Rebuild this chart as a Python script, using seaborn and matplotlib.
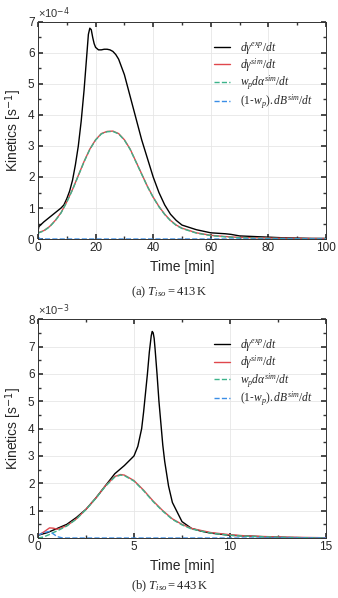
import numpy as np
import pandas as pd
import seaborn as sns
from matplotlib import pyplot as plt
from matplotlib.ticker import MultipleLocator

# ---- (a) T_iso = 413 K, values in 1e-4 s^-1, time in min
t_exp_a = [0, 0.3, 2, 4, 6, 8, 9, 10, 11, 12, 13, 14, 15, 16, 17, 17.5, 18, 18.5, 19, 19.5, 20, 21, 22,
           23, 24, 25, 26, 27, 28, 30, 32, 34, 36, 38, 40, 42, 44, 46, 48, 50, 55, 60, 65, 67, 70,
           75, 80, 85, 90, 95, 100]
y_exp_a = [0.25, 0.4, 0.55, 0.7, 0.85, 1.0, 1.1, 1.3, 1.55, 1.9, 2.4, 3.0, 3.8, 4.8, 6.0, 6.6, 6.8,
           6.75, 6.5, 6.3, 6.18, 6.1, 6.1, 6.12, 6.12, 6.1, 6.05, 5.95, 5.8, 5.3, 4.6, 3.9, 3.2, 2.6,
           2.0, 1.5, 1.1, 0.8, 0.6, 0.45, 0.3, 0.2, 0.17, 0.15, 0.1, 0.08, 0.06, 0.04, 0.03, 0.02, 0.02]
t_sim_a = [0, 2, 4, 6, 8, 10, 12, 14, 16, 18, 20, 22, 24, 26, 28, 30, 32, 34, 36, 38, 40, 42, 44,
           46, 48, 50, 55, 60, 65, 70, 80, 90, 100]
y_sim_a = [0.2, 0.27, 0.4, 0.6, 0.85, 1.2, 1.6, 2.05, 2.5, 2.9, 3.2, 3.4, 3.47, 3.48, 3.4, 3.2, 2.9,
           2.5, 2.1, 1.7, 1.35, 1.05, 0.8, 0.6, 0.45, 0.35, 0.2, 0.12, 0.08, 0.05, 0.03, 0.02, 0.01]
y_alpha_a = [0.19, 0.26, 0.39, 0.59, 0.84, 1.19, 1.59, 2.04, 2.49, 2.89, 3.19, 3.39, 3.46, 3.47,
             3.39, 3.19, 2.89, 2.49, 2.09, 1.69, 1.34, 1.04, 0.79, 0.59, 0.44, 0.34, 0.19, 0.11,
             0.07, 0.04, 0.02, 0.01, 0.0]
t_beta_a = [0, 0.3, 1, 100]
y_beta_a = [0.3, 0.03, 0.0, 0.0]

# ---- (b) T_iso = 443 K, values in 1e-3 s^-1
t_exp_b = [0, 0.5, 1, 1.5, 2, 2.5, 3, 3.5, 4, 4.5, 5, 5.2, 5.4, 5.5, 5.6, 5.7, 5.8, 5.9, 5.95,
           6.0, 6.05, 6.1, 6.2, 6.3, 6.4, 6.5, 6.6, 6.8, 7, 7.5, 8, 8.5, 9, 10, 11, 12, 13, 14, 15]
y_exp_b = [0.1, 0.2, 0.35, 0.5, 0.75, 1.05, 1.45, 1.9, 2.35, 2.65, 3.0, 3.35, 4.0, 4.6, 5.3, 6.0,
           6.8, 7.4, 7.55, 7.5, 7.3, 6.9, 6.0, 5.0, 4.2, 3.4, 2.8, 1.9, 1.3, 0.6, 0.35, 0.25, 0.18,
           0.1, 0.07, 0.04, 0.02, 0.01, 0.01]
t_sim_b = [0, 0.3, 0.6, 0.8, 1, 1.5, 2, 2.5, 3, 3.5, 4, 4.3, 4.5, 5, 5.5, 6, 6.5, 7, 7.5, 8, 9, 10,
           11, 12, 13, 14, 15]
y_sim_b = [0.1, 0.22, 0.37, 0.36, 0.32, 0.45, 0.7, 1.05, 1.45, 1.9, 2.25, 2.32, 2.3, 2.1, 1.75,
           1.35, 1.0, 0.7, 0.5, 0.35, 0.2, 0.12, 0.07, 0.05, 0.03, 0.02, 0.01]
y_alpha_b = [0.0, 0.04, 0.13, 0.2, 0.26, 0.44, 0.69, 1.04, 1.44, 1.88, 2.23, 2.3, 2.28, 2.08, 1.73,
             1.33, 0.98, 0.68, 0.48, 0.33, 0.18, 0.1, 0.06, 0.04, 0.02, 0.01, 0.0]
t_beta_b = [0, 0.3, 0.6, 0.8, 1, 1.3, 15]
y_beta_b = [0.1, 0.2, 0.24, 0.15, 0.05, 0.0, 0.0]

labels = [r'$\mathit{d\gamma^{exp}/dt}$', r'$\mathit{d\gamma^{sim}/dt}$',
          r'$\mathit{w_p d\alpha^{sim}/dt}$', r'$\mathit{(1}$-$\mathit{w_p).dB^{sim}/dt}$']
colors = ['#000000', '#e0474c', '#3cb38a', '#3a8ee6']

sns.set_theme(style='ticks')
plt.rcParams['font.family'] = ['Liberation Sans', 'DejaVu Sans']
plt.rcParams['mathtext.fontset'] = 'custom'
plt.rcParams['mathtext.it'] = 'Liberation Serif:italic'
plt.rcParams['mathtext.rm'] = 'Liberation Serif'

fig = plt.figure(figsize=(3.38, 5.98), dpi=100)
ax_a = fig.add_axes([0.1124, 0.6003, 0.852, 0.363])
ax_b = fig.add_axes([0.1124, 0.1003, 0.852, 0.366])


def draw(ax, series, xmax, xmaj, xmin_, ymax, exp_label):
    for (t, y), lab, col, ls in zip(series, labels, colors, ['-', '-', '--', '--']):
        sns.lineplot(x=t, y=y, ax=ax, color=col, linestyle=ls, linewidth=1.0, label=lab,
                     sort=False, estimator=None)
    ax.set_xlim(0, xmax)
    ax.set_ylim(0, ymax)
    ax.xaxis.set_major_locator(MultipleLocator(xmaj))
    ax.xaxis.set_minor_locator(MultipleLocator(xmin_))
    ax.yaxis.set_major_locator(MultipleLocator(1))
    ax.yaxis.set_minor_locator(MultipleLocator(0.5))
    ax.tick_params(which='both', direction='in', top=True, right=True, labelsize=8.5,
                   color='#333333', pad=2.5)
    ax.tick_params(which='major', length=3.5)
    ax.tick_params(which='minor', length=2)
    ax.grid(True, which='major', color='#e6e6e6', linewidth=0.6)
    for s in ax.spines.values():
        s.set_color('#333333')
        s.set_linewidth(0.7)
    ax.set_xlabel('Time [min]', fontsize=10, labelpad=4)
    ax.set_ylabel('Kinetics [s$^{\\mathsf{-1}}$]', fontsize=10, labelpad=3)
    ax.text(0.0, 1.006, '\u00d710$^{\\mathsf{' + exp_label + '}}$', transform=ax.transAxes,
            fontsize=8, ha='left', va='bottom', color='#333333')
    ax.legend(loc='upper right', bbox_to_anchor=(0.99, 0.965), frameon=False, fontsize=8.3,
              handlelength=1.4, handletextpad=0.8, labelspacing=0.02)


draw(ax_a, [(t_exp_a, y_exp_a), (t_sim_a, y_sim_a), (t_sim_a, y_alpha_a), (t_beta_a, y_beta_a)],
     100, 20, 10, 7, '-4')
draw(ax_b, [(t_exp_b, y_exp_b), (t_sim_b, y_sim_b), (t_sim_b, y_alpha_b), (t_beta_b, y_beta_b)],
     15, 5, 2.5, 8, '-3')

fig.text(0.5, 1 - 292 / 598, r'(a) $T_{iso} = 413\,\mathrm{K}$', ha='center', va='center',
         fontsize=9, family='Liberation Serif')
fig.text(0.5, 1 - 586 / 598, r'(b) $T_{iso} = 443\,\mathrm{K}$', ha='center', va='center',
         fontsize=9, family='Liberation Serif')

fig.savefig('out.png', dpi=100)
